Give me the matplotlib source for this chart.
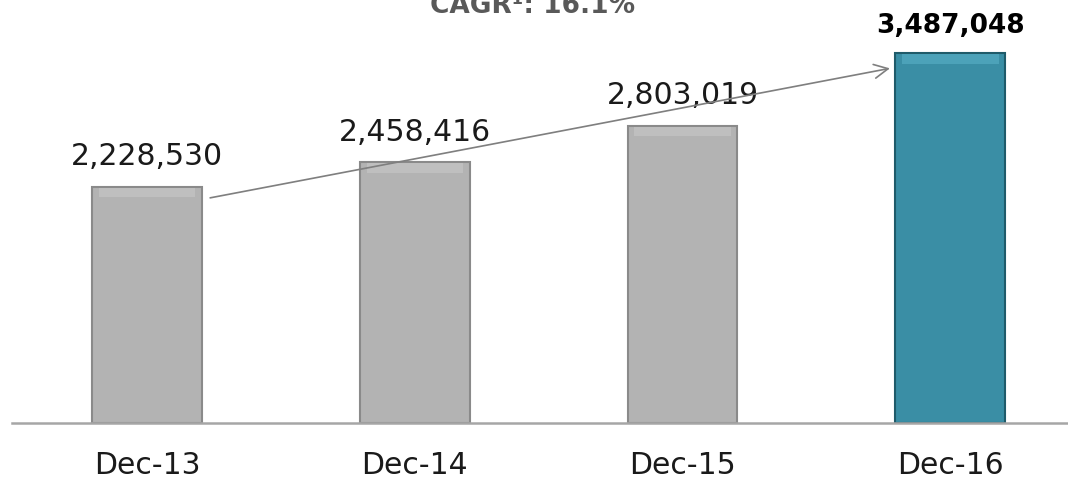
import numpy as np
import matplotlib.pyplot as plt

categories = ["Dec-13", "Dec-14", "Dec-15", "Dec-16"]
values = [2228530, 2458416, 2803019, 3487048]
title = "CAGR\u00b9: 16.1%"

face = ["#b3b3b3", "#b3b3b3", "#b3b3b3", "#3a8ea5"]
edge = ["#8a8a8a", "#8a8a8a", "#8a8a8a", "#1f5b6a"]
hilite = ["#cfcfcf", "#cfcfcf", "#cfcfcf", "#62bcd3"]

fig = plt.figure(figsize=(10.68, 4.87), dpi=100)
ax = fig.add_axes([12/1068, 64/487, 1056/1068, 423/487])

x = np.arange(len(categories))
w = 0.41
ax.bar(x, values, width=w, color=face, edgecolor=edge, linewidth=1.5, zorder=2)
# bevel highlight on top of each bar
band = 90000
ax.bar(x, [band]*4, bottom=np.array(values) - band - 12000, width=w*0.88,
       color=hilite, alpha=0.45, linewidth=0, zorder=3)

ax.set_xlim(-0.505, 3.44)
ax.set_ylim(0, 3986800)

for i, v in enumerate(values):
    last = i == len(values) - 1
    ax.annotate(f"{v:,}", (x[i], v), xytext=(0, 11 if not last else 10),
                textcoords="offset points", ha="center", va="bottom",
                fontsize=19 if last else 21.5,
                fontweight="bold" if last else "normal",
                color="black" if last else "#1a1a1a")

# CAGR arrow
ax.annotate("", xy=(x[3] - w/2 - 0.01, values[3]*0.96),
            xytext=(x[0] + w/2 + 0.02, values[0]*0.95),
            arrowprops=dict(arrowstyle="->", color="#7f7f7f", lw=1.2,
                            mutation_scale=25), zorder=4)

for s in ["top", "right", "left"]:
    ax.spines[s].set_visible(False)
ax.spines["bottom"].set_color("#a6a6a6")
ax.spines["bottom"].set_linewidth(1.8)
ax.set_yticks([])
ax.set_xticks(x)
ax.set_xticklabels(categories, fontsize=21.5, color="#1a1a1a")
ax.tick_params(axis="x", length=0, pad=20)

fig.text(533/1068, 1 - 13/487, title, ha="center", va="baseline",
         fontsize=19, fontweight="bold", color="#595959")

fig.savefig("out.png", dpi=100)
